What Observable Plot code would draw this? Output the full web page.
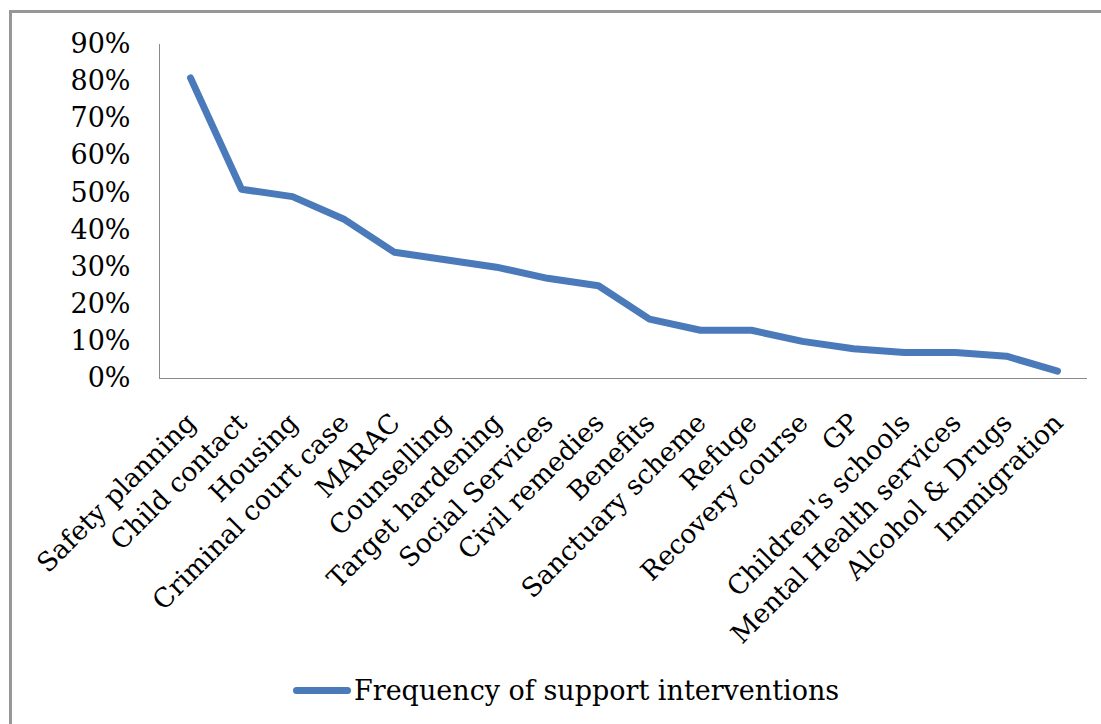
<!DOCTYPE html>
<html>
<head>
<meta charset="utf-8">
<script src="https://cdn.jsdelivr.net/npm/d3@7"></script>
<script src="https://cdn.jsdelivr.net/npm/@observablehq/plot@0.6"></script>
<style>
  html, body { margin: 0; padding: 0; background: #fff; overflow: hidden; width: 1101px; height: 724px; }
  #frame { position: absolute; left: 9px; top: 10px; width: 1200px; height: 900px; border: 3px solid #979797; box-sizing: border-box; }
  #chart { position: absolute; left: 0; top: 0; }
  #legend { position: absolute; left: 293px; top: 670px; height: 40px; display: flex; align-items: center; font-family: "DejaVu Serif", serif; font-size: 27px; color: #000; }
  #legend .sw { width: 58px; height: 7px; border-radius: 4px; background: #4a7aba; margin-right: 3px; }
</style>
</head>
<body>
<div id="frame"></div>
<div id="chart"></div>
<div id="legend"><span class="sw"></span><span>Frequency of support interventions</span></div>
<script>
const categories = [
  "Safety planning", "Child contact", "Housing", "Criminal court case", "MARAC",
  "Counselling", "Target hardening", "Social Services", "Civil remedies", "Benefits",
  "Sanctuary scheme", "Refuge", "Recovery course", "GP", "Children's schools",
  "Mental Health services", "Alcohol & Drugs", "Immigration"
];
const values = [0.81, 0.51, 0.49, 0.43, 0.34, 0.32, 0.30, 0.27, 0.25, 0.16, 0.13, 0.13, 0.10, 0.08, 0.07, 0.07, 0.06, 0.02];
const yTicks = [0, 0.1, 0.2, 0.3, 0.4, 0.5, 0.6, 0.7, 0.8, 0.9];
const seriesName = "Frequency of support interventions";

const data = categories.map((c, i) => ({category: c, value: values[i]}));

const chart = Plot.plot({
  width: 1101,
  height: 724,
  marginLeft: 159,
  marginRight: 14,
  marginTop: 44,
  marginBottom: 346,
  style: {fontFamily: "DejaVu Serif, serif", background: "transparent", color: "#000"},
  x: {type: "point", domain: categories, padding: 0.5},
  y: {domain: [0, 0.9]},
  marks: [
    Plot.frame({anchor: "left", stroke: "#8a8a8a", strokeWidth: 1}),
    Plot.ruleY([0], {stroke: "#8a8a8a", strokeWidth: 1.2}),
    Plot.axisY({ticks: yTicks, tickSize: 0, tickPadding: 29, fontSize: 27, tickFormat: d => Math.round(d * 100) + "%", label: null}),
    Plot.axisX({ticks: [], label: null}),
    Plot.text(data, {x: "category", text: "category", frameAnchor: "bottom", dx: 1, dy: 40, rotate: -45, textAnchor: "end", lineAnchor: "middle", fontSize: 26.5, fill: "#000"}),
    Plot.lineY(data, {x: "category", y: "value", stroke: "#4a7aba", strokeWidth: 7, strokeLinecap: "round", strokeLinejoin: "round"})
  ]
});
document.getElementById("chart").appendChild(chart);
</script>
</body>
</html>
